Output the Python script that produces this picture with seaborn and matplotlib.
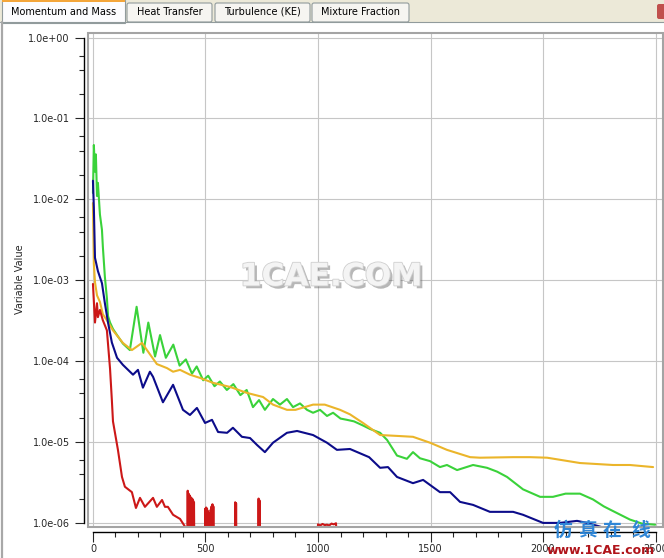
import matplotlib
matplotlib.use("Agg")
import matplotlib.pyplot as plt
import matplotlib.patheffects as pe
from matplotlib.patches import Rectangle, FancyBboxPatch
from matplotlib.ticker import FixedLocator, MultipleLocator, LogLocator, FuncFormatter, NullFormatter
import seaborn as sns

# residual histories (iteration, value)
green_iter = [0, 4, 9, 13, 18, 22, 31, 40, 44, 53, 62, 67, 76, 89, 107, 133, 164, 194, 224, 246,
              276, 298, 324, 357, 385, 413, 440, 461, 490, 512, 540, 564, 595, 624, 655, 683, 711, 738, 764, 800,
              831, 862, 889, 920, 951, 978, 1009, 1040, 1067, 1100, 1129, 1160, 1200, 1231, 1276, 1307, 1351, 1395, 1422, 1453,
              1498, 1542, 1573, 1618, 1689, 1751, 1796, 1840, 1911, 1987, 2044, 2100, 2164, 2222, 2270, 2311, 2386, 2440, 2498]
green_val = [1.2e-2, 4.7e-2, 2.2e-2, 3.6e-2, 1.1e-2, 1.6e-2, 6.5e-3, 4.2e-3, 2.6e-3, 1.1e-3,
             6.0e-4, 3.6e-4, 3.0e-4, 2.5e-4, 2.1e-4, 1.65e-4, 1.37e-4, 4.7e-4, 1.27e-4, 3.0e-4,
             1.14e-4, 2.1e-4, 1.1e-4, 1.6e-4, 8.8e-5, 1.05e-4, 7.0e-5, 8.6e-5, 5.8e-5, 6.6e-5,
             4.9e-5, 5.6e-5, 4.4e-5, 5.2e-5, 3.8e-5, 4.4e-5, 2.7e-5, 3.3e-5, 2.5e-5, 3.4e-5,
             2.9e-5, 3.4e-5, 2.7e-5, 3.0e-5, 2.5e-5, 2.3e-5, 2.5e-5, 2.1e-5, 2.3e-5, 1.95e-5,
             1.88e-5, 1.8e-5, 1.6e-5, 1.45e-5, 1.3e-5, 1.06e-5, 6.8e-6, 6.2e-6, 7.5e-6, 6.3e-6,
             5.8e-6, 4.9e-6, 5.2e-6, 4.5e-6, 5.2e-6, 4.8e-6, 4.3e-6, 3.7e-6, 2.6e-6, 2.1e-6,
             2.1e-6, 2.3e-6, 2.3e-6, 1.95e-6, 1.6e-6, 1.4e-6, 1.1e-6, 9.8e-7, 9.5e-7]

yellow_iter = [0, 4, 9, 18, 31, 44, 62, 89, 133, 173, 218, 240, 284, 329, 356, 387, 431, 476, 533, 609,
               684, 756, 800, 862, 900, 978, 1030, 1098, 1142, 1200, 1244, 1276, 1351, 1422, 1498, 1573, 1676, 1720, 1867, 1942,
               2018, 2164, 2311, 2386, 2489]
yellow_val = [9.0e-3, 1.6e-3, 9.5e-4, 6.5e-4, 5.4e-4, 3.8e-4, 3.2e-4, 2.4e-4, 1.68e-4, 1.37e-4,
              1.68e-4, 1.37e-4, 9.2e-5, 8.2e-5, 7.4e-5, 7.8e-5, 6.8e-5, 6.2e-5, 5.4e-5, 4.8e-5,
              4.05e-5, 3.6e-5, 2.9e-5, 2.5e-5, 2.5e-5, 2.9e-5, 2.9e-5, 2.5e-5, 2.2e-5, 1.72e-5,
              1.41e-5, 1.22e-5, 1.19e-5, 1.16e-5, 9.8e-6, 8.0e-6, 6.5e-6, 6.4e-6, 6.5e-6, 6.5e-6,
              6.4e-6, 5.5e-6, 5.2e-6, 5.2e-6, 4.9e-6]

blue_iter = [0, 4, 9, 22, 40, 53, 67, 84, 107, 133, 178, 200, 222, 253, 267, 311, 356, 400, 431, 462,
             498, 529, 556, 596, 622, 662, 698, 729, 764, 800, 862, 907, 978, 1040, 1084, 1142, 1227, 1276, 1311, 1351,
             1422, 1467, 1542, 1587, 1631, 1689, 1764, 1867, 1911, 2000, 2075, 2151, 2195, 2253, 2342, 2420, 2498]
blue_val = [1.7e-2, 8.0e-3, 1.9e-3, 1.3e-3, 9.2e-4, 5.2e-4, 3.0e-4, 1.7e-4, 1.1e-4, 9.0e-5,
            6.8e-5, 7.8e-5, 4.7e-5, 7.4e-5, 6.4e-5, 3.1e-5, 5.1e-5, 2.5e-5, 2.16e-5, 2.64e-5,
            1.72e-5, 1.88e-5, 1.33e-5, 1.3e-5, 1.5e-5, 1.16e-5, 1.12e-5, 9.2e-6, 7.5e-6, 9.8e-6,
            1.3e-5, 1.37e-5, 1.22e-5, 9.8e-6, 8.0e-6, 8.2e-6, 6.5e-6, 4.8e-6, 4.9e-6, 3.7e-6,
            3.1e-6, 3.4e-6, 2.4e-6, 2.4e-6, 1.82e-6, 1.67e-6, 1.37e-6, 1.37e-6, 1.26e-6, 1.0e-6,
            1.0e-6, 1.06e-6, 1.0e-6, 9.0e-7, 7.5e-7, 6.0e-7, 5.0e-7]

# red drops under the axis floor after ~400 and only pokes back up in short bursts
red_iter = [0, 9, 18, 22, 31, 44, 62, 76, 84, 89, 111, 129, 142, 173, 191, 209, 231, 267, 284, 307,
            320, 333, 356, 387, 409, 416,
            419, 421, 423, 425, 427, 429, 431, 433, 435, 437, 439, 441, 443, 445, 447, 449, 451,
            497, 499, 501, 503, 505, 507, 509, 511, 513, 515, 517, 519, 521, 523, 525, 527, 529, 531, 533, 535, 537,
            630, 632, 634, 636, 638,
            734, 736, 738, 740, 742,
            995, 1000, 1010, 1020, 1030, 1040, 1050, 1060, 1070, 1080, 1088, 2498]
red_val = [9.0e-4, 3.0e-4, 5.2e-4, 3.5e-4, 4.3e-4, 3.2e-4, 2.4e-4, 8.0e-5, 3.3e-5, 1.8e-5,
           8.0e-6, 3.7e-6, 2.8e-6, 2.4e-6, 1.53e-6, 2.04e-6, 1.58e-6, 2.04e-6, 1.58e-6, 1.92e-6,
           1.58e-6, 1.58e-6, 1.26e-6, 1.12e-6, 9.0e-7, 3e-7,
           3e-7, 2.5e-6, 3e-7, 2.3e-6, 3e-7, 2.2e-6, 3e-7, 2.1e-6, 3e-7, 2.0e-6, 3e-7, 2.0e-6, 3e-7, 1.9e-6, 3e-7, 1.8e-6, 3e-7,
           3e-7, 1.5e-6, 3e-7, 1.55e-6, 3e-7, 1.5e-6, 3e-7, 1.4e-6, 3e-7, 1.3e-6, 3e-7, 1.3e-6, 3e-7, 1.45e-6, 3e-7,
           1.6e-6, 3e-7, 1.7e-6, 3e-7, 1.6e-6, 3e-7,
           3e-7, 1.8e-6, 3e-7, 1.75e-6, 3e-7,
           3e-7, 2.0e-6, 3e-7, 1.9e-6, 3e-7,
           3e-7, 9.6e-7, 9.3e-7, 9.7e-7, 9.4e-7, 9.5e-7, 9.3e-7, 9.8e-7, 9.6e-7, 9.9e-7, 3e-7, 3e-7]

x_ticks = [0, 500, 1000, 1500, 2000, 2500]
y_ticks = [1e-6, 1e-5, 1e-4, 1e-3, 1e-2, 1e-1, 1e0]
tab_names = ["Momentum and Mass", "Heat Transfer", "Turbulence (KE)", "Mixture Fraction"]

sns.set_style("white")
plt.rcParams['font.family'] = ['DejaVu Sans', 'Noto Sans CJK SC']

fig = plt.figure(figsize=(6.64, 5.58), dpi=100)
fig.patch.set_facecolor('white')

# background layer in pixel coordinates (tabs, window border, axis label)
bg = fig.add_axes([0, 0, 1, 1], zorder=0)
bg.set_xlim(0, 664)
bg.set_ylim(558, 0)
bg.axis('off')
bg.add_patch(Rectangle((0, 0), 664, 22, fc='#ece9d8', ec='none'))
bg.plot([0, 664], [22, 22], color='#919b9c', lw=0.8)
bg.plot([2, 2], [22, 558], color='#a8a8a8', lw=1.6)
tab_boxes = [(2, 0, 123), (127, 3, 85), (215, 3, 95), (312, 3, 97)]
for i, (name, (tx, ty, tw)) in enumerate(zip(tab_names, tab_boxes)):
    if i == 0:
        bg.add_patch(Rectangle((tx, ty), tw, 23 - ty, fc='#fcfcfe', ec='#919b9c', lw=0.8))
        bg.add_patch(Rectangle((tx, 0), tw, 2, fc='#f4a63a', ec='none'))
    else:
        bg.add_patch(FancyBboxPatch((tx, ty), tw, 19, boxstyle='round,pad=0,rounding_size=2',
                                    fc='#f6f5f1', ec='#919b9c', lw=0.8))
    bg.text(tx + tw / 2, 12, name, ha='center', va='center', fontsize=7, color='black')
bg.add_patch(FancyBboxPatch((657, 4), 10, 15, boxstyle='round,pad=0,rounding_size=2', fc='#c0504d', ec='none'))
bg.text(20, 279, "Variable Value", rotation=90, ha='center', va='center', fontsize=7)

# main plot
ax = fig.add_axes([88 / 664, 31 / 558, 575 / 664, 494 / 558], zorder=1)
ax.set_facecolor('white')

sns.lineplot(x=green_iter, y=green_val, color='#3ad23a', lw=1.5, ax=ax, estimator=None, sort=False)
sns.lineplot(x=yellow_iter, y=yellow_val, color='#ebb52a', lw=1.5, ax=ax, estimator=None, sort=False)
sns.lineplot(x=blue_iter, y=blue_val, color='#0c0c8a', lw=1.5, ax=ax, estimator=None, sort=False)
sns.lineplot(x=red_iter, y=red_val, color='#cc1818', lw=1.5, ax=ax, estimator=None, sort=False)

ax.set_yscale('log')
ax.set_xlim(-22, 2533)
ax.set_ylim(8.9e-7, 1.14)
ax.set_xlabel('')
ax.set_ylabel('')

ax.xaxis.set_major_locator(FixedLocator(x_ticks))
ax.xaxis.set_minor_locator(MultipleLocator(100))
ax.yaxis.set_major_locator(FixedLocator(y_ticks))
ax.yaxis.set_minor_locator(LogLocator(base=10, subs=(2.0, 4.0, 6.0), numticks=30))
ax.yaxis.set_major_formatter(FuncFormatter(lambda v, p: f"{v:.1e}"))
ax.yaxis.set_minor_formatter(NullFormatter())

ax.grid(True, which='major', color='#c6c6c6', lw=0.8)
ax.set_axisbelow(True)

for s in ['top', 'right']:
    ax.spines[s].set_visible(False)
ax.spines['left'].set_position(('outward', 3))
ax.spines['bottom'].set_position(('outward', 3.6))
ax.spines['left'].set_bounds(1e-6, 1)
ax.spines['bottom'].set_bounds(0, 2500)
for s in ['left', 'bottom']:
    ax.spines[s].set_color('black')
    ax.spines[s].set_linewidth(1.0)

ax.tick_params(axis='y', which='major', length=6.5, width=0.8, pad=3.5, labelsize=7, left=True)
ax.tick_params(axis='y', which='minor', length=3.6, width=0.8, left=True)
ax.tick_params(axis='x', which='major', length=7, width=0.8, pad=1.5, labelsize=7, bottom=True)
ax.tick_params(axis='x', which='minor', length=3.6, width=0.8, bottom=True)

# grey frame around the plotting area
ax.add_patch(Rectangle((0, 0), 1, 1, transform=ax.transAxes, fill=False, ec='#a4a4a4',
                       lw=1.5, clip_on=False, zorder=3))

# watermarks on top
fg = fig.add_axes([0, 0, 1, 1], zorder=5)
fg.set_xlim(0, 664)
fg.set_ylim(558, 0)
fg.axis('off')
fg.text(331, 277, "1CAE.COM", ha='center', va='center', fontsize=22.5, fontweight='bold',
        color='#f4f4f4',
        path_effects=[pe.withSimplePatchShadow(offset=(2, -2), shadow_rgbFace='#606060', alpha=0.45),
                      pe.Stroke(linewidth=1.2, foreground='#cfcfcf'), pe.Normal()])
for ch, cx in zip("仿真在线", [563, 587, 612, 641]):
    fg.text(cx, 530, ch, ha='center', va='center', fontsize=13.5, fontweight='bold', color='#2f86d6',
            family=['Noto Sans CJK SC', 'DejaVu Sans'])
fg.text(601, 551, "www.1CAE.com", ha='center', va='center', fontsize=9, fontweight='bold',
        color='#b0141a')

fig.savefig('out.png', dpi=100)
